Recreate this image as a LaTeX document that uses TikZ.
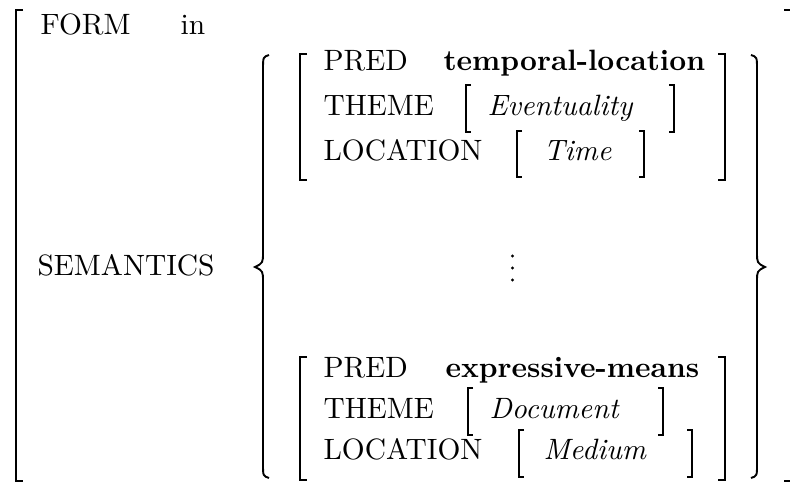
\documentclass[tikz,border=0pt]{standalone}
\usetikzlibrary{positioning,calc}

\newcommand*{\avmL}{300}
\newcommand*{\avmR}{725}
\newcommand*{\txt}{323}

\tikzset{
  attr/.style={anchor=base west,inner sep=0pt},
  val/.style={anchor=base west,inner sep=0pt,font=\bfseries},
  typ/.style={anchor=base west,inner sep=0pt,font=\itshape},
  brk/.style={line width=0.6pt,line cap=butt},
  brc/.style={line width=0.65pt}
}

\begin{document}
\begin{tikzpicture}[x=0.34pt,y=-0.34pt]
    \useasboundingbox (0,0) rectangle (790,483);
    % outer matrix
    \draw [brk] (23,10) -- (16,10) -- (16,481) -- (23,481);
    \draw [brk] (784,10) -- (791,10) -- (791,481) -- (784,481);
    \node[attr] (form) at (40,35) {FORM};
    \node[attr] (in) at (180,35) {in};
    \node[attr] (sem) at (37,276) {SEMANTICS};
    % braces
    \draw [brc] (269,55) .. controls (263,57) .. (263,70) -- (263,252)
      .. controls (263,263) .. (255,267) .. controls (263,271) .. (263,282)
      -- (263,464) .. controls (263,476) .. (269,478);
    \draw [brc] (751,55) .. controls (757,57) .. (757,70) -- (757,252)
      .. controls (757,263) .. (765,267) .. controls (757,271) .. (757,282)
      -- (757,464) .. controls (757,476) .. (751,478);
    % first disjunct
    \draw [brk] (\avmL+7,54) -- (\avmL,54) -- (\avmL,180) -- (\avmL+7,180);
    \draw [brk] (\avmR-7,54) -- (\avmR,54) -- (\avmR,180) -- (\avmR-7,180);
    \node[attr] (pred1) at (\txt,71) {PRED};
    \node[val] (pv1) at (443,71) {temporal-location};
    \node[attr] (theme1) at (\txt,116) {THEME};
    \node[typ] (tv1) at (487,116) {Eventuality};
    \node[attr] (loc1) at (\txt,161) {LOCATION};
    \node[typ] (lv1) at (543,161) {Time};
    \draw [brk] (471,85) -- (466,85) -- (466,132) -- (471,132);
    \draw [brk] (669,85) -- (674,85) -- (674,132) -- (669,132);
    \draw [brk] (522,131) -- (517,131) -- (517,177) -- (522,177);
    \draw [brk] (639,131) -- (644,131) -- (644,177) -- (639,177);
    % dots
    \foreach \y in {256,268,280}
      \fill (512.5,\y) circle [radius=1.6];
    % last disjunct
    \draw [brk] (\avmL+7,357) -- (\avmL,357) -- (\avmL,480) -- (\avmL+7,480);
    \draw [brk] (\avmR-7,357) -- (\avmR,357) -- (\avmR,480) -- (\avmR-7,480);
    \node[attr] (pred2) at (\txt,378) {PRED};
    \node[val] (pv2) at (445,378) {expressive-means};
    \node[attr] (theme2) at (\txt,419) {THEME};
    \node[typ] (tv2) at (489,419) {Document};
    \node[attr] (loc2) at (\txt,460) {LOCATION};
    \node[typ] (lv2) at (543,460) {Medium};
    \draw [brk] (473,388) -- (468,388) -- (468,435) -- (473,435);
    \draw [brk] (658,388) -- (663,388) -- (663,435) -- (658,435);
    \draw [brk] (524,430) -- (519,430) -- (519,477) -- (524,477);
    \draw [brk] (687,430) -- (692,430) -- (692,477) -- (687,477);
\end{tikzpicture}
\end{document}
